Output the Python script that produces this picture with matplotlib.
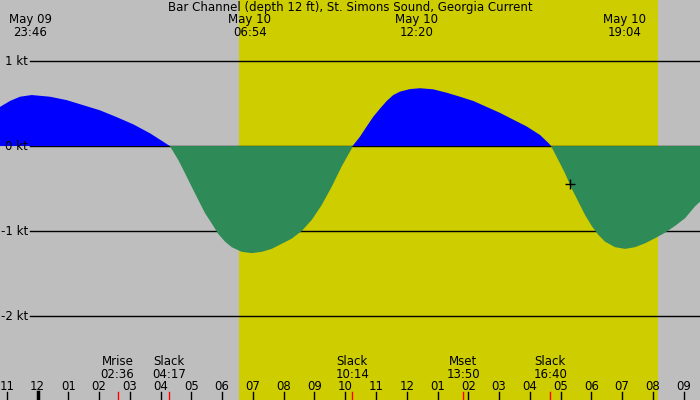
import numpy as np
import matplotlib
matplotlib.use("Agg")
import matplotlib.pyplot as plt

# hours after midnight May 10 and current in knots
hours = [-1.219, -0.894, -0.569, -0.188, 0.406, 0.949, 1.488, 2.031, 2.574, 3.113,
         3.656, 4.088, 4.30,
         4.576, 4.794, 5.011, 5.226, 5.444, 5.661, 5.876, 6.094, 6.311, 6.636,
         6.961, 7.286, 7.611, 7.936, 8.261, 8.586, 8.911, 9.236, 9.561, 9.886,
         10.211, 10.24,
         10.481, 10.699, 10.913, 11.131, 11.349, 11.563, 11.781, 12.106, 12.431, 12.863,
         13.299, 13.731, 14.163, 14.599, 15.031, 15.463, 15.899, 16.331, 16.62, 16.69,
         16.926, 17.143, 17.361, 17.576, 17.794, 18.011, 18.226, 18.444, 18.769, 19.094,
         19.419, 19.744, 20.069, 20.394, 20.719, 21.044, 21.369, 21.531]
knots = [0.46, 0.53, 0.58, 0.60, 0.58, 0.54, 0.48, 0.42, 0.34, 0.255,
         0.15, 0.05, 0.0,
         -0.165, -0.32, -0.48, -0.635, -0.79, -0.91, -1.035, -1.125, -1.19, -1.245,
         -1.26, -1.245, -1.21, -1.15, -1.09, -1.0, -0.87, -0.695, -0.48, -0.24,
         -0.03, 0.0,
         0.11, 0.23, 0.345, 0.44, 0.53, 0.60, 0.64, 0.67, 0.68, 0.667,
         0.627, 0.58, 0.53, 0.46, 0.39, 0.31, 0.23, 0.13, 0.03, 0.0,
         -0.165, -0.32, -0.50, -0.655, -0.81, -0.94, -1.045, -1.125, -1.19, -1.21,
         -1.19, -1.145, -1.085, -1.02, -0.94, -0.85, -0.71, -0.655]

kt_levels = [1, 0, -1, -2]
kt_labels = ["1 kt", "0 kt", "-1 kt", "-2 kt"]

# max / min current labels at top
peak_hours = [-0.233, 6.9, 12.333, 19.067]
peak_labels = ["May 09\n23:46", "May 10\n06:54", "May 10\n12:20", "May 10\n19:04"]

# events at bottom
event_hours = [2.6, 4.283, 10.233, 13.833, 16.667]
event_labels = ["Mrise\n02:36", "Slack\n04:17", "Slack\n10:14", "Mset\n13:50", "Slack\n16:40"]

tick_hours = list(range(-1, 22))
tick_labels = ["11", "12", "01", "02", "03", "04", "05", "06", "07", "08", "09", "10",
               "11", "12", "01", "02", "03", "04", "05", "06", "07", "08", "09"]

sunrise, sunset = 6.55, 20.15
now_hour, now_kt = 17.306, -0.447

t = np.array(hours)
v = np.array(knots)

gray = "#bebebe"
yellow = "#cdcd00"
blue = "#0000ff"
green = "#2e8b57"

plt.rcParams["font.family"] = "DejaVu Sans"
fs = 8.5

fig = plt.figure(figsize=(7, 4), dpi=100)
ax = fig.add_axes([0, 0, 1, 1])
ax.set_xlim(-1.219, 21.531)
ax.set_ylim(-2.988, 1.718)
ax.axis("off")
fig.patch.set_facecolor(gray)

ax.axvspan(sunrise, sunset, color=yellow, zorder=1, lw=0)

for lvl in kt_levels:
    ax.axhline(lvl, xmin=30 / 700, color="black", lw=1.0, zorder=2)

ax.fill_between(t, v, 0, where=v >= 0, interpolate=True, color=blue, lw=0, zorder=3)
ax.fill_between(t, v, 0, where=v <= 0, interpolate=True, color=green, lw=0, zorder=3)

for lvl, lab in zip(kt_levels, kt_labels):
    ax.text(28 / 700, lvl, lab, transform=ax.get_yaxis_transform(), ha="right",
            va="center", fontsize=fs, zorder=5)

ax.plot([now_hour], [now_kt], marker="+", color="black", markersize=7, mew=1, zorder=6)

xt = ax.get_xaxis_transform()
ax.text(0.5, 0.98, "Bar Channel (depth 12 ft), St. Simons Sound, Georgia Current",
        transform=ax.transAxes, ha="center", va="center", fontsize=fs, zorder=5)
for h, lab in zip(peak_hours, peak_labels):
    ax.text(h, 0.935, lab, transform=xt, ha="center", va="center", fontsize=fs,
            linespacing=1.0, zorder=5)
for h, lab in zip(event_hours, event_labels):
    ax.text(h, 0.08, lab, transform=xt, ha="center", va="center", fontsize=fs,
            linespacing=1.0, zorder=5)
    ax.plot([h, h], [0, 0.02], transform=xt, color="red", lw=1, zorder=5)
for h, lab in zip(tick_hours, tick_labels):
    ax.text(h, 0.035, lab, transform=xt, ha="center", va="center", fontsize=fs, zorder=5)
    ax.plot([h, h], [0, 0.02], transform=xt, color="black",
            lw=2.5 if h == 0 else 1, zorder=5)

fig.savefig("out.png", dpi=100, facecolor=gray)
